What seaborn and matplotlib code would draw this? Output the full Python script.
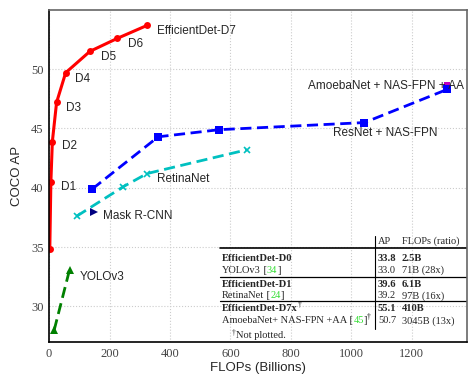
import matplotlib
matplotlib.use("Agg")
import matplotlib.pyplot as plt
import seaborn as sns

# EfficientDet D0-D7
eff_flops = [2.5, 6.1, 11, 25, 55, 135, 226, 325]
eff_ap = [34.8, 40.5, 43.9, 47.2, 49.7, 51.5, 52.6, 53.7]
eff_labels = ["", "D1", "D2", "D3", "D4", "D5", "D6", "EfficientDet-D7"]

# ResNet + NAS-FPN / AmoebaNet
nas_flops = [143, 361, 563, 1043, 1317]
nas_ap = [39.9, 44.3, 44.9, 45.5, 48.3]
amoeba_flops = [1317]
amoeba_ap = [48.7]

# RetinaNet
retina_flops = [91, 246, 324, 653]
retina_ap = [37.6, 40.1, 41.2, 43.2]

# Mask R-CNN
mask_flops = [150]
mask_ap = [38.0]

# YOLOv3
yolo_flops = [17, 68]
yolo_ap = [28.0, 33.1]

sns.set_style("white")
plt.rcParams["font.family"] = ["Liberation Sans", "DejaVu Sans"]

fig = plt.figure(figsize=(4.76, 3.8), dpi=100)
ax = fig.add_axes([0.103, 0.1, 0.878, 0.874])

ax.grid(True, color="#cccccc", linestyle=":", linewidth=0.8)
ax.set_axisbelow(True)

sns.lineplot(x=eff_flops, y=eff_ap, color="#ff0000", marker="o", markersize=5,
             markeredgewidth=0, linewidth=2.2, sort=False, ax=ax)
sns.lineplot(x=retina_flops, y=retina_ap, color="#00c0c0", marker="x", markersize=4.5,
             markeredgewidth=1.2, markeredgecolor="#00c0c0",
             linewidth=2, linestyle=(0, (4, 2)), sort=False, ax=ax)
sns.lineplot(x=amoeba_flops, y=amoeba_ap, color="#c000c0", marker="s", markersize=5,
             markeredgewidth=0, linestyle="", ax=ax)
sns.lineplot(x=nas_flops, y=nas_ap, color="#0000ff", marker="s", markersize=5.5,
             markeredgewidth=0, linewidth=2, linestyle=(0, (4, 2)), sort=False, ax=ax)
sns.lineplot(x=mask_flops, y=mask_ap, color="#000080", marker=">", markersize=6,
             markeredgewidth=0, linestyle="", ax=ax)
sns.lineplot(x=yolo_flops, y=yolo_ap, color="#008000", marker="^", markersize=6,
             markeredgewidth=0, linewidth=2, linestyle=(0, (4, 2)), sort=False, ax=ax)

# point labels
fs = 8.5
label_pos = [None, (40, 40.1), (43, 43.5), (56, 46.7), (86, 49.2), (172, 51.0),
             (261, 52.1), (357, 53.2)]
for lab, pos in zip(eff_labels, label_pos):
    if lab:
        ax.text(pos[0], pos[1], lab, fontsize=fs, va="center", ha="left")
ax.text(357, 40.7, "RetinaNet", fontsize=fs, va="center")
ax.text(178, 37.6, "Mask R-CNN", fontsize=fs, va="center")
ax.text(102, 32.5, "YOLOv3", fontsize=fs, va="center")
ax.text(856, 48.6, "AmoebaNet + NAS-FPN + AA", fontsize=fs, va="center")
ax.text(939, 44.6, "ResNet + NAS-FPN", fontsize=fs, va="center")

ax.set_xlim(0, 1382)
ax.set_ylim(27, 55)
ax.set_xticks([0, 200, 400, 600, 800, 1000, 1200])
ax.set_yticks([30, 35, 40, 45, 50])
ax.tick_params(direction="in", length=3, width=0.8, labelsize=9, labelcolor="#444444", pad=4)
for lab in ax.get_xticklabels() + ax.get_yticklabels():
    lab.set_fontfamily("Liberation Serif")
ax.set_xlabel("FLOPs (Billions)", fontsize=9.5, labelpad=2)
ax.set_ylabel("COCO AP", fontsize=9.5, labelpad=6)
for s in ["left", "bottom"]:
    ax.spines[s].set_color("black")
    ax.spines[s].set_linewidth(1.2)
for s in ["top", "right"]:
    ax.spines[s].set_color("#666666")
    ax.spines[s].set_linewidth(1.2)

# inset table
nfs, bfs = 7.5, 7.6
serif = "Liberation Serif"
green = "#33dd33"
x0, xv, xap, xfl = 0.414, 0.779, 0.787, 0.844
tr = ax.transAxes


def piece(prev, s, color="black", dy=0, size=nfs):
    return ax.annotate(s, xy=(1, 0), xycoords=prev, xytext=(0, dy),
                       textcoords="offset points", fontsize=size, color=color,
                       fontfamily=serif, va="bottom", ha="left")


def row(y, name, ap, fl, bold=False, cite=None, dagger=False):
    w = "bold" if bold else "normal"
    size = bfs if bold else nfs
    t = ax.text(x0, y, name, transform=tr, fontsize=size, fontweight=w,
                fontfamily=serif, va="baseline")
    if cite:
        t = piece(t, " [")
        t = piece(t, cite, color=green)
        t = piece(t, "]")
    if dagger:
        piece(t, "\u2020", dy=3.5, size=5.5)
    ax.text(xap, y, ap, transform=tr, fontsize=size, fontweight=w,
            fontfamily=serif, va="baseline")
    ax.text(xfl, y, fl, transform=tr, fontsize=size, fontweight=w,
            fontfamily=serif, va="baseline")


ax.text(xap, 0.296, "AP", transform=tr, fontsize=nfs, fontfamily=serif, va="baseline")
ax.text(xfl, 0.296, "FLOPs (ratio)", transform=tr, fontsize=nfs,
        fontfamily=serif, va="baseline")
row(0.245, "EfficientDet-D0", "33.8", "2.5B", bold=True)
row(0.209, "YOLOv3", "33.0", "71B (28x)", cite="34")
row(0.166, "EfficientDet-D1", "39.6", "6.1B", bold=True)
row(0.131, "RetinaNet", "39.2", "97B (16x)", cite="24")
row(0.092, "EfficientDet-D7x", "55.1", "410B", bold=True, dagger=True)
row(0.056, "AmoebaNet+ NAS-FPN +AA", "50.7", "3045B (13x)", cite="45", dagger=True)
ax.text(0.437, 0.022, "\u2020", transform=tr, fontsize=5.5, fontfamily=serif,
        va="baseline")
ax.text(0.447, 0.012, "Not plotted.", transform=tr, fontsize=nfs, fontfamily=serif,
        va="baseline")

ax.plot([x0 - 0.004, 1.0], [0.283, 0.283], transform=tr, color="black", lw=1.2)
ax.plot([x0 - 0.004, 1.0], [0.195, 0.195], transform=tr, color="black", lw=0.9)
ax.plot([x0 - 0.004, 1.0], [0.124, 0.124], transform=tr, color="black", lw=0.9)
ax.plot([xv, xv], [0.040, 0.319], transform=tr, color="black", lw=0.8)

fig.savefig("out.png", dpi=100)
